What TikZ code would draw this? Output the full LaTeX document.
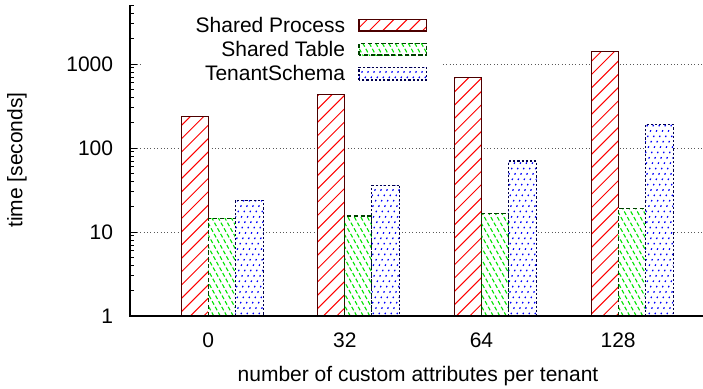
\documentclass[tikz,border=0pt]{standalone}
\usepackage{fontspec}
\setmainfont{Liberation Sans}

% Hatched box: #1,#2 left/right x; #3,#4 top/bottom y; #5 line spacing;
% #6 horizontal run per unit rise of the hatch lines; #7 hatch style; #8 edge style
\newcommand\patbox[8]{%
  \fill[white] (#1,#4) rectangle (#2,#3);
  \begin{scope}
    \clip (#1,#4) rectangle (#2,#3);
    \pgfmathtruncatemacro\kA{floor((#1-abs(#6)*400-#5)/#5)}
    \pgfmathtruncatemacro\kB{ceil((#2+abs(#6)*400+#5)/#5)}
    \foreach \k in {\kA,...,\kB}
      \draw[#7] ({\k*#5},400) -- ({\k*#5+#6*400},0);
  \end{scope}
  \draw[#8] (#1,#4) rectangle (#2,#3);}

% One bar of the chart, from the baseline (value 1) up to value #3
\newcommand\databar[8]{%
  \pgfmathsetmacro\barTop{316-84*log10(#3)}
  \patbox{#1}{#2}{\barTop}{316}{#5}{#6}{#7}{#8}}

\begin{document}
\begin{tikzpicture}[x=0.5pt,y=-0.5pt,
  declare function={yv(\v)=316-84*log10(\v);},
  lbl/.style={font=\fontsize{10.5pt}{12pt}\selectfont, inner sep=0pt},
  gridline/.style={black!65, line width=0.5pt, dash pattern=on 0.5pt off 1.2pt},
  axisline/.style={black, line width=0.75pt},
  tickline/.style={black, line width=0.5pt},
  sphatch/.style={red, line width=0.5pt},
  sthatch/.style={green!90!black, line width=0.55pt, dash pattern=on 2pt off 1.2pt},
  tshatch/.style={blue, line width=0.6pt, dash pattern=on 0.8pt off 2.2pt},
  spedge/.style={draw=black!70!red, line width=0.55pt},
  stedge/.style={draw=black!75!green, line width=0.55pt, dash pattern=on 2.2pt off 1.2pt},
  tsedge/.style={draw=black!70!blue, line width=0.55pt, dash pattern=on 1.1pt off 1pt},
]
\useasboundingbox (0,0) rectangle (703,388);

% grid lines
\foreach \v in {10,100,1000}
  \draw[gridline] (130,{yv(\v)}) -- (703,{yv(\v)});

% key background
\fill[white] (143,8) rectangle (440,88);

% bars: category centre / Shared Process / Shared Table / TenantSchema
\foreach \c/\a/\b/\d in {208.3/236/14.4/24, 344.9/431/15.5/36,
                         481.5/695/16.7/70, 618.1/1400/19.1/191}{
  \databar{\c-27}{\c}{\a}{}{13.3}{1}{sphatch}{spedge}
  \databar{\c}{\c+27}{\b}{}{6.5}{-0.55}{sthatch}{stedge}
  \databar{\c+27}{\c+55}{\d}{}{6}{0.5}{tshatch}{tsedge}
}

% axes and ticks
\draw[axisline] (130,5.3) -- (130,316) -- (703,316);
\foreach \v in {1,10,100,1000}
  \draw[tickline] (130,{yv(\v)}) -- (137,{yv(\v)});
\foreach \v in {2,...,9,20,30,...,90,200,300,...,900,2000,3000,4000,5000}
  \draw[tickline] (130,{yv(\v)}) -- (134,{yv(\v)});

% tick labels
\node[lbl, anchor=east] (y1) at (113.5,{yv(1)}) {1};
\node[lbl, anchor=east] (y10) at (113.5,{yv(10)}) {10};
\node[lbl, anchor=east] (y100) at (113.5,{yv(100)}) {100};
\node[lbl, anchor=east] (y1000) at (113.5,{yv(1000)}) {1000};
\node[lbl] (x0) at (208.3,340) {0};
\node[lbl] (x32) at (344.9,340) {32};
\node[lbl] (x64) at (481.5,340) {64};
\node[lbl] (x128) at (618.1,340) {128};

% axis titles
\node[lbl, anchor=base] (xtitle) at (418,381.5) {number of custom attributes per tenant};
\node[lbl, rotate=90] (ytitle) at (17,160) {time [seconds]};

% key
\node[lbl, anchor=base east] (k1) at (345.5,32.3) {Shared Process};
\node[lbl, anchor=base east] (k2) at (345.5,56) {Shared Table};
\node[lbl, anchor=base east] (k3) at (345.5,80.5) {TenantSchema};
\patbox{359}{426.7}{19.3}{31}{13.3}{1}{sphatch}{spedge}
\patbox{359}{426.7}{43.3}{55}{6.5}{-0.55}{sthatch}{stedge}
\patbox{359}{426.7}{67.3}{80}{6}{0.5}{tshatch}{tsedge}
\end{tikzpicture}
\end{document}
